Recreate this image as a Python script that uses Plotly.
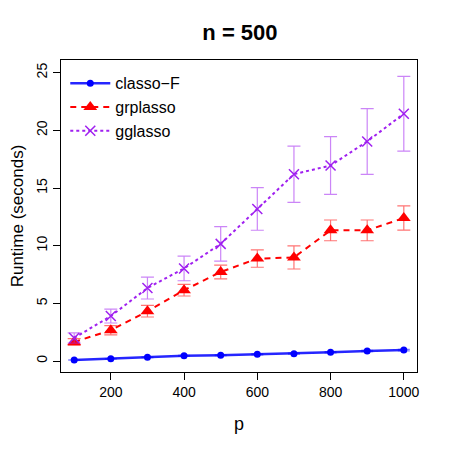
import plotly.graph_objects as go

p = [100, 200, 300, 400, 500, 600, 700, 800, 900, 1000]

classo_f = [0.09, 0.2, 0.32, 0.46, 0.5, 0.58, 0.64, 0.76, 0.87, 0.95]
classo_f_err = [0.02, 0.02, 0.03, 0.03, 0.03, 0.04, 0.04, 0.05, 0.05, 0.06]

grplasso = [1.65, 2.67, 4.32, 6.14, 7.72, 8.88, 8.98, 11.33, 11.33, 12.4]
grplasso_err = [0.3, 0.4, 0.5, 0.5, 0.6, 0.75, 1.0, 0.9, 0.9, 1.05]

gglasso = [2.0, 3.9, 6.33, 8.03, 10.16, 13.19, 16.2, 16.95, 19.04, 21.44]
gglasso_err = [0.45, 0.6, 0.95, 1.07, 1.5, 1.85, 2.44, 2.5, 2.85, 3.24]

font = "Liberation Sans, Arial, sans-serif"

fig = go.Figure()

# classo-F: blue solid with dots
fig.add_trace(go.Scatter(
    x=p, y=classo_f, name="classo\u2212F", mode="lines+markers",
    line=dict(color="rgba(0,0,255,0.85)", width=2.5, dash="solid"),
    marker=dict(symbol="circle", size=7, color="#0000FF"),
    error_y=dict(type="data", array=classo_f_err, color="rgba(0,0,255,0.5)",
                 thickness=1.2, width=6),
))

# grplasso: red dashed with triangles
fig.add_trace(go.Scatter(
    x=p, y=grplasso, name="grplasso", mode="lines+markers",
    line=dict(color="#FF0000", width=2, dash="6px,5px"),
    marker=dict(symbol="triangle-up", size=12, color="#FF0000"),
    error_y=dict(type="data", array=grplasso_err, color="rgba(255,0,0,0.55)",
                 thickness=1.2, width=6.5),
))

# gglasso: purple dotted with x
fig.add_trace(go.Scatter(
    x=p, y=gglasso, name="gglasso", mode="lines+markers",
    line=dict(color="#A020F0", width=2, dash="dot"),
    marker=dict(symbol="x-thin", size=10, color="#A020F0",
                line=dict(color="#A020F0", width=1.5)),
    error_y=dict(type="data", array=gglasso_err, color="rgba(160,32,240,0.55)",
                 thickness=1.2, width=6.5),
))

# page body adds ~8px offset, so figure is 441 and margins compensate
fig.update_layout(
    width=441, height=441,
    margin=dict(l=53, r=32, t=52, b=77),
    paper_bgcolor="white", plot_bgcolor="white",
    font=dict(family=font, color="black"),
    title=dict(text="<b>n = 500</b>", x=0.526, xanchor="center",
               y=0.946, yanchor="middle", font=dict(size=22)),
    showlegend=True,
    legend=dict(x=0.012, y=0.98, xanchor="left", yanchor="top",
                bgcolor="rgba(0,0,0,0)", font=dict(size=16),
                itemwidth=40, tracegroupgap=0),
)

fig.update_xaxes(
    range=[64, 1036], tickvals=[200, 400, 600, 800, 1000],
    showgrid=False, zeroline=False, showline=True, mirror=True,
    linecolor="black", linewidth=1, ticks="outside", ticklen=7,
    tickcolor="black", tickfont=dict(size=14), automargin=False,
    title=dict(text="p", font=dict(size=18), standoff=18),
)

fig.update_yaxes(
    range=[-0.95, 26.1], tickvals=[0, 5, 10, 15, 20, 25],
    showgrid=False, zeroline=False, showline=True, mirror=True,
    linecolor="black", linewidth=1, ticks="outside", ticklen=7,
    tickcolor="black", tickfont=dict(size=14), tickangle=-90,
    automargin=False,
    title=dict(text="Runtime (seconds)", font=dict(size=17), standoff=18),
)

fig.write_html("out.html")
